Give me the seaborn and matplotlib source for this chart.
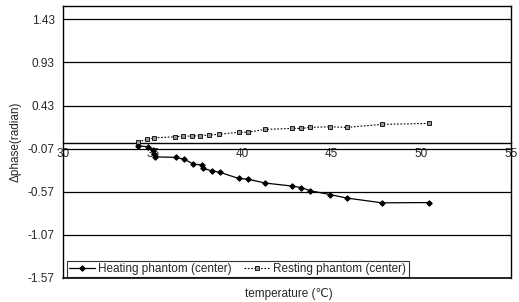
import pandas as pd
import seaborn as sns
import matplotlib.pyplot as plt

# Heating phantom (center)
heat_temp = [34.2, 34.75, 35.05, 35.1, 35.15, 36.3, 36.78, 37.28, 37.75, 37.8, 38.3,
             38.77, 39.8, 40.3, 41.3, 42.8, 43.3, 43.8, 44.9, 45.85, 47.8, 50.4]
heat_phase = [-0.036, -0.048, -0.09, -0.13, -0.165, -0.171, -0.194, -0.249, -0.26, -0.299, -0.326,
              -0.345, -0.415, -0.423, -0.469, -0.504, -0.521, -0.558, -0.602, -0.643, -0.698, -0.695]

# Resting phantom (center)
rest_temp = [34.2, 34.7, 35.1, 36.26, 36.72, 37.19, 37.65, 38.12, 38.68, 39.8,
             40.3, 41.3, 42.8, 43.3, 43.8, 44.9, 45.85, 47.8, 50.4]
rest_phase = [0.01, 0.038, 0.056, 0.068, 0.076, 0.076, 0.08, 0.088, 0.096, 0.12,
              0.12, 0.154, 0.165, 0.165, 0.177, 0.184, 0.177, 0.212, 0.223]

y_ticks = [1.43, 0.93, 0.43, -0.07, -0.57, -1.07, -1.57]
x_ticks = [30, 35, 40, 45, 50, 55]

df_heat = pd.DataFrame({"temp": heat_temp, "phase": heat_phase})
df_rest = pd.DataFrame({"temp": rest_temp, "phase": rest_phase})

sns.set_style("white")
plt.rcParams['font.family'] = ['Liberation Sans', 'DejaVu Sans']
plt.rcParams['font.size'] = 8.5

fig = plt.figure(figsize=(5.19, 3.02), dpi=100)
ax = fig.add_axes([63 / 519, 1 - 278 / 302, 448 / 519, 272 / 302])

# gridlines at the y ticks
for yv in y_ticks[:-1]:
    ax.axhline(yv, color="black", lw=0.9, zorder=1)

sns.lineplot(data=df_heat, x="temp", y="phase", ax=ax, color="black", lw=0.9,
             marker="D", markersize=2.8, markeredgecolor="black", markerfacecolor="black",
             label="Heating phantom (center)", zorder=3)
sns.lineplot(data=df_rest, x="temp", y="phase", ax=ax, color="black", lw=0.8,
             linestyle=(0, (1.5, 1.5)), marker="s", markersize=3.2,
             markeredgecolor="black", markerfacecolor="#999999", markeredgewidth=0.6,
             label="Resting phantom (center)", zorder=3)

ax.set_xlim(30, 55)
ax.set_ylim(-1.57, 1.585)
ax.set_yticks(y_ticks)
ax.set_yticklabels(["1.43", "0.93", "0.43", "-0.07", "-0.57", "-1.07", "-1.57"])
ax.set_xticks(x_ticks)

# x axis crosses at 0, labels just under it
ax.spines['bottom'].set_position(('data', 0))
ax.axhline(-1.57, color="black", lw=1.2, clip_on=False, zorder=2)
for s in ax.spines.values():
    s.set_color("black")
    s.set_linewidth(1.0)
ax.tick_params(axis="x", direction="in", length=2, pad=4, labelsize=8.5)
ax.tick_params(axis="y", length=0, pad=6, labelsize=8.5)

ax.set_xlabel("temperature (\u2103)", fontsize=8.5)
ax.xaxis.set_label_coords(0.505, -0.038)
ax.set_ylabel("\u0394phase(radian)", fontsize=8.5, labelpad=4)

leg = ax.legend(loc="lower left", ncol=2, frameon=True, fancybox=False, fontsize=8.5,
                borderpad=0.2, handlelength=2.2, handletextpad=0.3, columnspacing=1.0,
                bbox_to_anchor=(0.008, 0.002), borderaxespad=0.0)
leg.get_frame().set_edgecolor("black")
leg.get_frame().set_linewidth(0.8)

fig.savefig("out.png", dpi=100)
